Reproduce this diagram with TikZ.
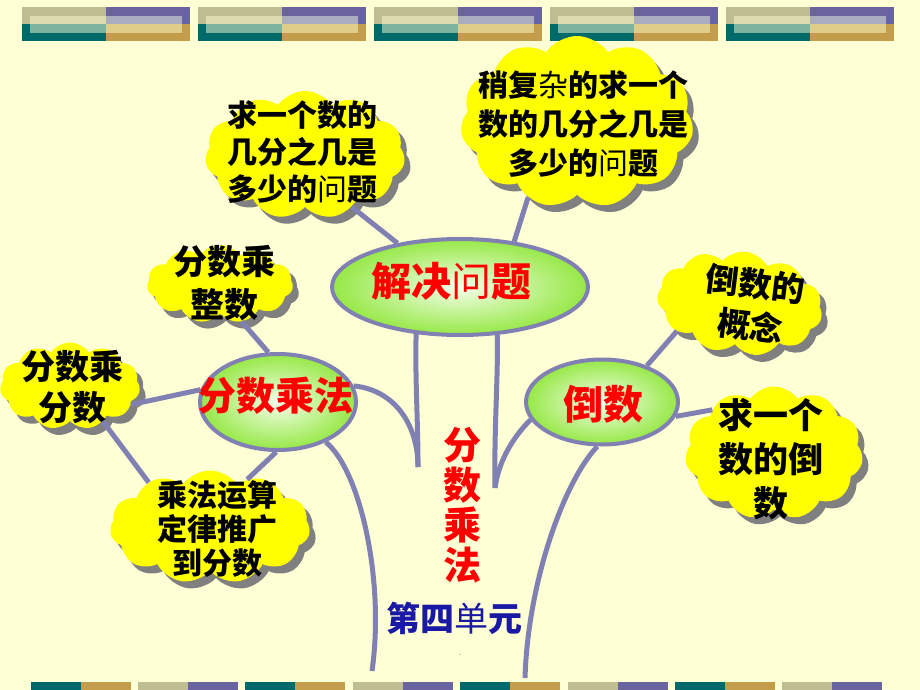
\documentclass[tikz,border=0pt]{standalone}
\usepackage{fontspec}
\newfontfamily\cjk{Noto Sans CJK SC}
\usetikzlibrary{shapes.geometric,shapes.symbols,shadows}
\definecolor{paper}{RGB}{255,255,214}
\definecolor{bartan}{RGB}{190,190,145}
\definecolor{barpurple}{RGB}{105,100,160}
\definecolor{barteal}{RGB}{0,105,105}
\definecolor{bargold}{RGB}{196,157,74}
\definecolor{barlight}{RGB}{220,220,176}
\definecolor{barlav}{RGB}{170,172,192}
\definecolor{barmint}{RGB}{125,180,160}
\definecolor{barsand}{RGB}{225,205,138}
\definecolor{twig}{RGB}{128,128,178}
\definecolor{puff}{RGB}{255,255,0}
\definecolor{puffshade}{RGB}{128,128,128}
\definecolor{leafin}{RGB}{245,255,235}
\definecolor{leafout}{RGB}{150,232,70}
\definecolor{unitblue}{RGB}{25,25,165}
\newcommand{\fsz}[2]{\cjk\bfseries\fontsize{#1}{#2}\selectfont}
\newcommand{\lite}[1]{{\mdseries #1}}

\begin{document}
\begin{tikzpicture}[x=1pt,y=-1pt]
   \tikzstyle{bubble}=[cloud, cloud puffs=11, cloud puff arc=110, cloud ignores aspect, fill=puff, inner sep=0pt, drop shadow={shadow xshift=6pt, shadow yshift=-7pt, fill=puffshade, opacity=1}]
   \tikzstyle{words}=[align=center, inner sep=0pt]
   \tikzstyle{oval}=[ellipse, draw=twig, line width=4pt, inner color=leafin, outer color=leafout, inner sep=0pt]
   \tikzstyle{twigline}=[draw=twig, line width=5pt]
   \useasboundingbox (0,0) rectangle (920,690);
   \fill[paper] (0,0) rectangle (920,690);
   % top bars
   \foreach \i in {0,...,4} {
       \pgfmathsetmacro\a{22+176*\i}
       \fill[bartan] (\a,7) rectangle ++(84,17);
       \fill[barpurple] (\a+84,7) rectangle ++(84,17);
       \fill[barteal] (\a,24) rectangle ++(84,17);
       \fill[bargold] (\a+84,24) rectangle ++(84,17);
       \fill[barlight] (\a+8,16) rectangle ++(76,8);
       \fill[barlav] (\a+84,16) rectangle ++(76,8);
       \fill[barmint] (\a+8,24) rectangle ++(76,9);
       \fill[barsand] (\a+84,24) rectangle ++(76,9);
   }
   % bottom bars
   \foreach \i/\ca/\cb in {0/barteal/bargold,1/bartan/barpurple,2/barteal/bargold,3/bartan/barpurple,4/barteal/bargold,5/bartan/barpurple,6/barteal/bargold,7/bartan/barpurple} {
       \pgfmathsetmacro\b{30.5+107.4*\i}
       \fill[\ca] (\b,682) rectangle ++(50,8);
       \fill[\cb] (\b+50,682) rectangle ++(50,8);
   }
   % ovals
   \node[oval, minimum width=256pt, minimum height=96pt] (jj) at (460,287) {};
   \node[oval, minimum width=156pt, minimum height=96pt] (fc) at (278,402) {};
   \node[oval, minimum width=152pt, minimum height=85pt] (ds) at (602,402) {};
   \node[words, text=red, font=\fsz{40}{40}] (jjt) at (451,281) {解决\lite{问}题};
   \node[words, text=red, font=\fsz{39}{39}] (fct) at (275,396) {分数乘法};
   \node[words, text=red, font=\fsz{40}{40}] (dst) at (603,404) {倒数};
   % clouds
   \node[bubble, minimum width=146pt, minimum height=78pt] (cz) at (220,284) {};
   \node[bubble, minimum width=140pt, minimum height=87pt] (cf) at (70,386) {};
   \node[bubble, minimum width=200pt, minimum height=113pt] (cy) at (210,527) {};
   \node[bubble, minimum width=200pt, minimum height=128pt] (q1) at (305,155) {};
   \node[bubble, minimum width=233pt, minimum height=172pt] (q2) at (577,122) {};
   \node[bubble, minimum width=166pt, minimum height=103pt, rotate=-7] (dg) at (740,303) {};
   \node[bubble, minimum width=178pt, minimum height=133pt] (dq) at (774,453) {};
   \node[words, font=\fsz{34}{43}] (czt) at (224,283) {分数乘\\整数};
   \node[words, font=\fsz{34}{41}] (cft) at (72,387) {分数乘\\分数};
   \node[words, font=\fsz{30}{34}] (cyt) at (217,529) {乘法运算\\定律推广\\到分数};
   \node[words, font=\fsz{30}{37}] (q1t) at (302,152) {求一个数的\\几分之几是\\多少的\lite{问}题};
   \node[words, font=\fsz{30}{39}] (q2t) at (583,124) {稍复\lite{杂}的求一个\\数的几分之几是\\多少的\lite{问}题};
   \node[words, font=\fsz{33}{42}, rotate=-7] (dgt) at (753,305) {倒数的\\概念};
   \node[words, font=\fsz{35}{44}] (dqt) at (771,459) {求一个\\数的倒\\数};
   % title
   \node[words, text=red, font=\fsz{38}{40}] (title) at (462,505) {分\\数\\乘\\法};
   \node[words, text=unitblue, font=\fsz{34}{34}] (unit) at (454,618) {第四\lite{单}元};
   \node[words, font=\fontsize{8}{8}\selectfont] (dot) at (460,655) {.};
   % trunk
   \coordinate (jl) at (418,467);
   \coordinate (jr) at (495,488);
   \coordinate (rootl) at (372,671);
   \coordinate (rootr) at (525,678);
   \draw[twigline] (fc.320) .. controls (360,470) and (385,580) .. (rootl);
   \draw[twigline] (fc.12) .. controls (395,390) and (418,425) .. (jl);
   \draw[twigline] (jj.227) .. controls (415,380) and (418,420) .. (jl);
   \draw[twigline] (jj.308) .. controls (498,380) and (494,430) .. (jr);
   \draw[twigline] (ds.194) .. controls (510,440) and (498,465) .. (jr);
   \draw[twigline] (ds.264) .. controls (565,480) and (528,580) .. (rootr);
   % branches
   \draw[twigline] (jj.145) -- (q1.312);
   \draw[twigline] (jj.40) -- (q2.237);
   \draw[twigline] (fc.101) -- (cz.300);
   \draw[twigline] (fc.171) -- (cf.343);
   \draw[twigline] (fc.268) -- (cy.52);
   \draw[twigline] (cf.313) -- (cy.144);
   \draw[twigline] (ds.39) -- (dg.211);
   \draw[twigline] (ds.349) -- (dq.145);
\end{tikzpicture}
\end{document}
